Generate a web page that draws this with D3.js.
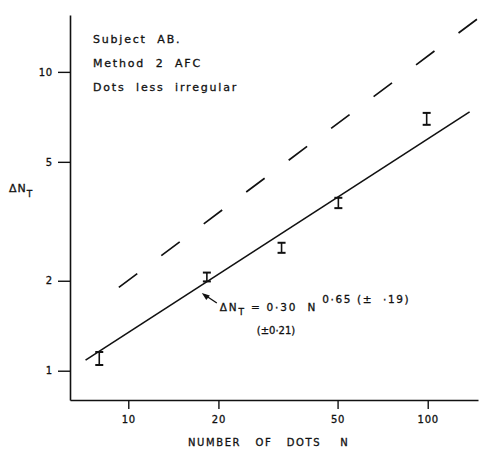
<!DOCTYPE html>
<html>
<head>
<meta charset="utf-8">
<script src="https://cdn.jsdelivr.net/npm/d3@7"></script>
<style>
  html, body { margin: 0; padding: 0; background: #fff; }
  svg text { font-family: "DejaVu Sans", sans-serif; fill: #111; stroke: #111; stroke-width: 0.3; white-space: pre; }
</style>
</head>
<body>
<svg id="chart" width="479" height="449"></svg>
<script>
// measured thresholds, subject AB, 2AFC
var dotCounts = [8, 18.3, 32.5, 50.3, 99.2];
var thresholdLow = [1.045, 1.99, 2.48, 3.50, 6.65];
var thresholdHigh = [1.155, 2.13, 2.68, 3.79, 7.29];

// fitted power law (solid) and comparison line (dashed), end points
var fitN = [7.2, 138];
var fitDN = [1.085, 7.35];
var refN = [9.3, 146];
var refDN = [1.9, 15.0];

var xTicks = [10, 20, 50, 100];
var yTicks = [1, 2, 5, 10];
var notes = ["Subject  AB.", "Method  2  AFC", "Dots  less  irregular"];

var svg = d3.select("#chart");

var x = d3.scaleLog().domain([6.388, 147.2]).range([70, 478]);
var y = d3.scaleLog().domain([0.798, 15.5]).range([400, 15]);

// axes
var xAxis = d3.axisBottom(x).tickValues(xTicks).tickSize(9).tickSizeOuter(0).tickPadding(7)
  .tickFormat(d3.format("d"));
var yAxis = d3.axisLeft(y).tickValues(yTicks).tickSize(12).tickSizeOuter(0).tickPadding(5)
  .tickFormat(d3.format("d"));

var gx = svg.append("g").attr("transform", "translate(0,400)").call(xAxis);
var gy = svg.append("g").attr("transform", "translate(70,0)").call(yAxis);

[gx, gy].forEach(function(g){
  g.select(".domain").attr("stroke", "#111").attr("stroke-width", 1.6);
  g.selectAll(".tick line").attr("stroke", "#111").attr("stroke-width", 1.4);
  g.selectAll(".tick text").attr("font-family", "DejaVu Sans").attr("font-size", 10)
    .attr("letter-spacing", 0.8).attr("fill", "#111");
});

// axis titles
svg.append("text").attr("x", 188).attr("y", 446).attr("font-size", 10).attr("letter-spacing", 1.6)
  .text("NUMBER   OF   DOTS    N");

var yl = svg.append("text").attr("x", 9).attr("y", 192).attr("font-size", 11).attr("letter-spacing", 1);
yl.append("tspan").text("ΔN");
yl.append("tspan").attr("font-size", 9).attr("dy", 5).text("T");

// notes top left
svg.selectAll("text.note").data(notes).enter().append("text")
  .attr("class", "note")
  .attr("x", 93)
  .attr("y", function(d, i){ return 43 + i * 24; })
  .attr("font-size", 11)
  .attr("letter-spacing", 1.8)
  .text(function(d){ return d; });

// lines
var line = d3.line().x(function(d){ return x(d[0]); }).y(function(d){ return y(d[1]); });

svg.append("path")
  .datum(d3.zip(fitN, fitDN))
  .attr("d", line)
  .attr("fill", "none").attr("stroke", "#111").attr("stroke-width", 1.6);

var dashed = svg.append("path")
  .datum(d3.zip(refN, refDN))
  .attr("d", line)
  .attr("fill", "none").attr("stroke", "#111").attr("stroke-width", 1.7);
// nine dashes, first and last at the ends
var len = dashed.node().getTotalLength();
var dash = 23, gap = (len - 9 * dash) / 8;
dashed.attr("stroke-dasharray", dash + "," + gap);

// error bars
var bars = svg.selectAll("g.bar").data(dotCounts).enter().append("g").attr("class", "bar");
bars.append("line")
  .attr("x1", function(d){ return x(d); }).attr("x2", function(d){ return x(d); })
  .attr("y1", function(d, i){ return y(thresholdLow[i]); })
  .attr("y2", function(d, i){ return y(thresholdHigh[i]); })
  .attr("stroke", "#111").attr("stroke-width", 1.6);
[thresholdLow, thresholdHigh].forEach(function(arr){
  bars.append("line")
    .attr("x1", function(d){ return x(d) - 4; }).attr("x2", function(d){ return x(d) + 4; })
    .attr("y1", function(d, i){ return y(arr[i]); })
    .attr("y2", function(d, i){ return y(arr[i]); })
    .attr("stroke", "#111").attr("stroke-width", 2);
});

// annotation with arrow
var tipX = x(17.6), tipY = y(1.82);
svg.append("line").attr("x1", tipX + 3).attr("y1", tipY + 2).attr("x2", tipX + 15).attr("y2", tipY + 10)
  .attr("stroke", "#111").attr("stroke-width", 1.4);
svg.append("path")
  .attr("d", "M" + tipX + "," + tipY + " l8,2.5 l-3.5,4.5 z")
  .attr("fill", "#111");

var eq = svg.append("text").attr("x", tipX + 18).attr("y", tipY + 18).attr("font-size", 10.5)
  .attr("letter-spacing", 1.8);
eq.append("tspan").text("ΔN");
eq.append("tspan").attr("font-size", 9).attr("dy", 4).text("T");
eq.append("tspan").attr("dy", -4).text(" = 0·30  N ");
eq.append("tspan").attr("dy", -8).attr("letter-spacing", 1.6).text("0·65 (±  ·19)");

svg.append("text").attr("x", tipX + 55).attr("y", tipY + 41).attr("font-size", 10)
  .attr("letter-spacing", 0).text("(±0·21)");
</script>
</body>
</html>
